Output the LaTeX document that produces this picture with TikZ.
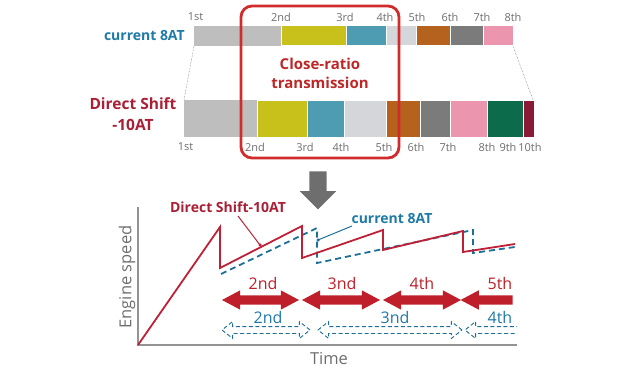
\documentclass[tikz,border=0pt]{standalone}
\usepackage{fontspec}
\setmainfont{Open Sans}
\usetikzlibrary{shapes.arrows}
\definecolor{gA}{HTML}{BEBEBF}
\definecolor{gL}{HTML}{D4D6D9}
\definecolor{gD}{HTML}{7B7B7B}
\definecolor{yel}{HTML}{C8C11C}
\definecolor{teal}{HTML}{4E9CB2}
\definecolor{org}{HTML}{B5621F}
\definecolor{pnk}{HTML}{EC95AE}
\definecolor{grn}{HTML}{0B6B4B}
\definecolor{drd}{HTML}{8B1A36}
\definecolor{bluet}{HTML}{1F7AA6}
\definecolor{redt}{HTML}{A91F36}
\definecolor{boxred}{HTML}{D22B2B}
\definecolor{linered}{HTML}{BE2038}
\definecolor{lineblue}{HTML}{1E6F98}
\definecolor{arrred}{HTML}{BE1F2A}
\definecolor{lblgray}{HTML}{6E6E6E}
\tikzset{
  seg/.style={draw=white, line width=1pt},
  gearlbl/.style={text=lblgray, font=\fontsize{11}{12}\selectfont, inner sep=0},
  bigbold/.style={font=\bfseries\fontsize{15}{19}\selectfont, inner sep=0, align=center},
  chartbold/.style={font=\bfseries\fontsize{14}{16}\selectfont, inner sep=0},
  shiftlbl/.style={font=\fontsize{16}{18}\selectfont, inner sep=0},
  redarrow/.style={double arrow, fill=arrred, draw=none, minimum width=19pt,
    double arrow head extend=5pt, double arrow tip angle=56,
    inner xsep=0pt, inner ysep=4.5pt},
  bluearrow/.style={double arrow, draw=lineblue, dash pattern=on 4pt off 2.5pt,
    line width=0.9pt, minimum width=16pt, double arrow head extend=5pt,
    double arrow tip angle=77, inner xsep=0pt, inner ysep=3pt},
  leaderdot/.style={circle, inner sep=0pt, minimum size=3.5pt},
}
\begin{document}
\begin{tikzpicture}[x=1pt,y=-1pt]
\useasboundingbox (0,0) rectangle (640,369);
% ---------- top bar: current 8AT ----------
\fill[gA] (194,26) rectangle (281,46);
\filldraw[seg, fill=yel] (281,26) rectangle (346,46);
\filldraw[seg, fill=teal] (346,26) rectangle (386,46);
\filldraw[seg, fill=gL] (386,26) rectangle (416,46);
\filldraw[seg, fill=org] (416,26) rectangle (450,46);
\filldraw[seg, fill=gD] (450,26) rectangle (483,46);
\filldraw[seg, fill=pnk] (483,26) rectangle (513,46);
\node[anchor=east, text=bluet, font=\bfseries\fontsize{14}{16}\selectfont, inner sep=0] (l8) at (185,36) {current 8AT};
\foreach \x/\t [count=\i] in {195.5/1st,281/2nd,345/3rd,385/4th,417/5th,450/6th,482/7th,513/8th}
  \node[gearlbl] (t\i) at (\x,17) {\t};
% ---------- bottom bar: Direct Shift-10AT ----------
\fill[gA] (184,100) rectangle (257,137);
\filldraw[seg, fill=yel] (257,100) rectangle (307,137);
\filldraw[seg, fill=teal] (307,100) rectangle (344,137);
\filldraw[seg, fill=gL] (344,100) rectangle (386,137);
\filldraw[seg, fill=org] (386,100) rectangle (420,137);
\filldraw[seg, fill=gD] (420,100) rectangle (450,137);
\filldraw[seg, fill=pnk] (450,100) rectangle (487,137);
\filldraw[seg, fill=grn] (487,100) rectangle (523,137);
\filldraw[seg, fill=drd] (523,100) rectangle (534,137);
\node[bigbold, text=redt, font=\bfseries\fontsize{15.5}{20.5}\selectfont] (l10) at (133,114) {Direct Shift\\-10AT};
\foreach \x/\t [count=\i] in {185.5/1st,255/2nd,305/3rd,341/4th,384/5th,416/6th,448/7th,487/8th,508/9th,530/10th}
  \node[gearlbl] (b\i) at (\x,147) {\t};
% dotted guides
\coordinate (tl) at (194,46); \coordinate (bl) at (184,100);
\coordinate (tr) at (513,46); \coordinate (br) at (533,100);
\draw[lblgray, densely dotted, line width=0.5pt] (tl) -- (bl);
\draw[lblgray, densely dotted, line width=0.5pt] (tr) -- (br);
% ---------- close-ratio box ----------
\draw[boxred, line width=2.8pt, rounded corners=11pt] (241,6) rectangle (399,158);
\node[bigbold, text=boxred!90!black] (cr) at (320,73) {Close-ratio\\transmission};
% ---------- down arrow ----------
\node[single arrow, fill=lblgray, draw=none, shape border rotate=270,
  minimum height=38pt, minimum width=36pt, single arrow head extend=9.5pt,
  single arrow tip angle=90, inner sep=8.5pt] (down) at (318,186) {};
% ---------- chart ----------
\coordinate (O) at (138,345);
\coordinate (Ytop) at (138,207);
\coordinate (Xend) at (517,345);
\draw[gray!85, line width=1.4pt] (Ytop) -- (O) -- (Xend);
\node[rotate=90, text=lblgray, font=\fontsize{16.5}{18}\selectfont, inner sep=0] (ylab) at (127,277) {Engine speed};
\node[text=lblgray, font=\fontsize{16.5}{18}\selectfont, inner sep=0] (xlab) at (329,359) {Time};
% engine speed traces
\draw[lineblue, line width=1.8pt, dash pattern=on 6pt off 4pt]
  (221,274) -- (317,228) -- (317,263) -- (473,230) -- (473,253) -- (515,247);
\draw[linered, line width=1.8pt, line join=miter]
  (O) -- (220,227) -- (220,268) -- (302,226) -- (302,258) -- (383,230)
  -- (383,250) -- (463,231) -- (463,252) -- (515,244);
% annotations
\node[chartbold, text=redt] (dsl) at (228,207) {Direct Shift-10AT};
\node[chartbold, text=bluet] (c8l) at (392,219) {current 8AT};
\node[leaderdot, fill=linered] (dsd) at (260,245) {};
\node[leaderdot, fill=lineblue] (c8d) at (318,240) {};
\draw[linered, line width=1pt] (238,216) -- (dsd.center);
\draw[lineblue, line width=1pt] (352,226) -- (c8d.center);
% red double arrows (10AT gears)
\node[redarrow, minimum height=77pt] (r2) at (260.5,300) {};
\node[redarrow, minimum height=78pt] (r3) at (341,300) {};
\node[redarrow, minimum height=78pt] (r4) at (422,300) {};
\node[single arrow, fill=arrred, draw=none, shape border rotate=180,
  minimum height=52pt, minimum width=19pt, single arrow head extend=5pt,
  single arrow tip angle=56, inner xsep=0pt, inner ysep=4.5pt] (r5) at (491,300) {};
\node[shiftlbl, text=arrred] (lr2) at (263,283) {2nd};
\node[shiftlbl, text=arrred] (lr3) at (342,283) {3nd};
\node[shiftlbl, text=arrred] (lr4) at (422,283) {4th};
\node[shiftlbl, text=arrred] (lr5) at (500,283) {5th};
% blue dashed double arrows (8AT gears)
\node[bluearrow, minimum height=88pt] (u2) at (266,330) {};
\node[bluearrow, minimum height=144pt] (u3) at (390,330) {};
\begin{scope}
  \clip (460,310) rectangle (517,350);
  \node[bluearrow, minimum height=80pt] (u4) at (505,330) {};
\end{scope}
\node[shiftlbl, text=bluet] (lu2) at (268,317) {2nd};
\node[shiftlbl, text=bluet] (lu3) at (395,317) {3nd};
\node[shiftlbl, text=bluet] (lu4) at (500,317) {4th};
\end{tikzpicture}
\end{document}
